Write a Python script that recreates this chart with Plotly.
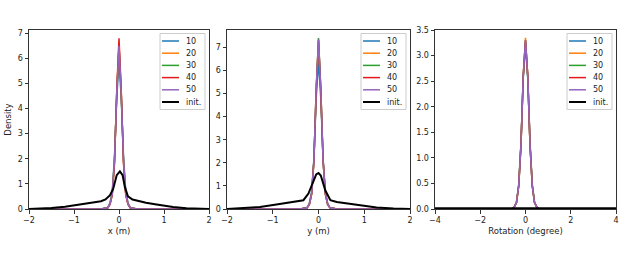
import plotly.graph_objects as go

W, H = 640, 267

series_names = ["10", "20", "30", "40", "50", "init."]
colors = ["#1f77b4", "#ff7f0e", "#2ca02c", "#e31a1c", "#9467bd", "#000000"]

# Panel 1: x (m)
x_grid_1 = [-2.0, -0.4, -0.25, -0.2, -0.15, -0.1, -0.05, 0.0, 0.05, 0.1, 0.15, 0.2, 0.25, 0.4, 2.0]
x_s10 = [0, 0, 0.06, 0.25, 0.7, 2.1, 4.4, 5.9, 4.4, 2.1, 0.7, 0.25, 0.06, 0, 0]
x_s20 = [0, 0, 0.05, 0.2, 0.6, 1.9, 4.7, 6.6, 4.6, 1.9, 0.6, 0.2, 0.05, 0, 0]
x_s30 = [0, 0, 0.05, 0.2, 0.6, 1.9, 4.6, 6.5, 4.6, 1.9, 0.6, 0.2, 0.05, 0, 0]
x_s40 = [0, 0, 0.04, 0.18, 0.55, 1.8, 4.7, 6.8, 4.7, 1.8, 0.55, 0.18, 0.04, 0, 0]
x_s50 = [0, 0, 0.05, 0.2, 0.6, 1.95, 4.6, 6.5, 4.6, 1.95, 0.6, 0.2, 0.05, 0, 0]
x_init_grid = [-2.0, -1.8, -1.5, -1.2, -1.0, -0.8, -0.6, -0.4, -0.3, -0.2, -0.13, -0.05, 0.02,
               0.08, 0.13, 0.2, 0.3, 0.4, 0.6, 0.8, 1.0, 1.2, 1.5, 1.8, 2.0]
x_init = [0.0, 0.01, 0.04, 0.09, 0.14, 0.19, 0.24, 0.31, 0.38, 0.55, 0.8, 1.35, 1.5,
          1.35, 0.88, 0.5, 0.38, 0.33, 0.25, 0.19, 0.13, 0.08, 0.03, 0.01, 0.0]

# Panel 2: y (m)
y_grid_2 = [-2.0, -0.4, -0.25, -0.2, -0.15, -0.1, -0.05, 0.0, 0.05, 0.1, 0.15, 0.2, 0.25, 0.4, 2.0]
y_s10 = [0, 0, 0.06, 0.25, 0.75, 2.2, 4.8, 6.4, 4.8, 2.2, 0.75, 0.25, 0.06, 0, 0]
y_s20 = [0, 0, 0.05, 0.2, 0.65, 2.1, 5.2, 7.3, 5.2, 2.1, 0.65, 0.2, 0.05, 0, 0]
y_s30 = [0, 0, 0.05, 0.2, 0.65, 2.1, 5.2, 7.4, 5.2, 2.1, 0.65, 0.2, 0.05, 0, 0]
y_s40 = [0, 0, 0.05, 0.2, 0.65, 2.1, 5.1, 7.3, 5.1, 2.1, 0.65, 0.2, 0.05, 0, 0]
y_s50 = [0, 0, 0.05, 0.2, 0.65, 2.1, 5.2, 7.35, 5.2, 2.1, 0.65, 0.2, 0.05, 0, 0]
y_init_grid = [-2.0, -1.65, -1.28, -0.92, -0.55, -0.33, -0.22, -0.12, -0.05, 0.0,
               0.05, 0.15, 0.26, 0.4, 0.55, 0.9, 1.27, 1.64, 2.0]
y_init = [0.0, 0.03, 0.09, 0.19, 0.29, 0.38, 0.67, 1.2, 1.5, 1.56,
          1.45, 0.8, 0.38, 0.3, 0.26, 0.16, 0.07, 0.02, 0.0]

# Panel 3: Rotation (degree)
r_grid_3 = [-4.0, -0.6, -0.5, -0.4, -0.3, -0.2, -0.1, 0.0, 0.1, 0.2, 0.3, 0.4, 0.5, 0.6, 4.0]
r_s10 = [0, 0, 0.04, 0.13, 0.48, 1.3, 2.55, 3.2, 2.55, 1.3, 0.48, 0.13, 0.04, 0, 0]
r_s20 = [0, 0, 0.04, 0.12, 0.45, 1.25, 2.6, 3.35, 2.6, 1.25, 0.45, 0.12, 0.04, 0, 0]
r_s30 = [0, 0, 0.04, 0.12, 0.45, 1.25, 2.6, 3.3, 2.6, 1.25, 0.45, 0.12, 0.04, 0, 0]
r_s40 = [0, 0, 0.04, 0.12, 0.45, 1.25, 2.6, 3.3, 2.6, 1.25, 0.45, 0.12, 0.04, 0, 0]
r_s50 = [0, 0, 0.04, 0.12, 0.45, 1.25, 2.6, 3.3, 2.6, 1.25, 0.45, 0.12, 0.04, 0, 0]
r_init_grid = [-4.0, 4.0]
r_init = [0.015, 0.015]

panels = [
    dict(grids=[x_grid_1] * 5 + [x_init_grid], vals=[x_s10, x_s20, x_s30, x_s40, x_s50, x_init],
         xrange=[-2, 2], yrange=[0, 7.13], xtick=[-2, -1, 0, 1, 2], ytick=list(range(0, 8)),
         yfmt="d", xtitle="x (m)", px=(29, 209)),
    dict(grids=[y_grid_2] * 5 + [y_init_grid], vals=[y_s10, y_s20, y_s30, y_s40, y_s50, y_init],
         xrange=[-2, 2], yrange=[0, 7.75], xtick=[-2, -1, 0, 1, 2], ytick=list(range(0, 8)),
         yfmt="d", xtitle="y (m)", px=(227, 410)),
    dict(grids=[r_grid_3] * 5 + [r_init_grid], vals=[r_s10, r_s20, r_s30, r_s40, r_s50, r_init],
         xrange=[-4, 4], yrange=[0, 3.5], xtick=[-4, -2, 0, 2, 4],
         ytick=[0, 0.5, 1.0, 1.5, 2.0, 2.5, 3.0, 3.5],
         yfmt=".1f", xtitle="Rotation (degree)", px=(435, 616)),
]

top_px, bot_px = 30, 209
ydom = [(H - bot_px) / H, (H - top_px) / H]

fig = go.Figure()
shapes = []
annotations = []
font_fam = "DejaVu Sans"
axis_col = "#333333"

for i, p in enumerate(panels):
    n = i + 1
    xa = "x" if n == 1 else f"x{n}"
    ya = "y" if n == 1 else f"y{n}"
    for k in range(6):
        fig.add_trace(go.Scatter(
            x=p["grids"][k], y=p["vals"][k], mode="lines", name=series_names[k],
            line=dict(color=colors[k], width=2.0 if k == 5 else 1.5),
            xaxis=xa, yaxis=ya, showlegend=False))
    xdom = [p["px"][0] / W, p["px"][1] / W]
    common = dict(showline=True, mirror=True, linecolor=axis_col, linewidth=1,
                  ticks="outside", ticklen=3.5, tickwidth=1, tickcolor=axis_col,
                  showgrid=False, zeroline=False, automargin=False,
                  tickfont=dict(family=font_fam, size=8, color="#222"))
    fig.update_layout({
        ("xaxis" if n == 1 else f"xaxis{n}"): dict(
            domain=xdom, range=p["xrange"], tickvals=p["xtick"], anchor=ya,
            title=dict(text=p["xtitle"], font=dict(family=font_fam, size=8.5, color="#222"), standoff=3),
            **common),
        ("yaxis" if n == 1 else f"yaxis{n}"): dict(
            domain=ydom, range=p["yrange"], tickvals=p["ytick"], tickformat=p["yfmt"], anchor=xa,
            title=dict(text="Density" if n == 1 else "", font=dict(family=font_fam, size=8.5, color="#222"), standoff=4),
            **common),
    })
    # manual matplotlib-like legend box
    right = p["px"][1] - 4
    left = right - 45
    top = top_px + 3.5
    bottom = top + 76
    def fx(v):
        return v / W
    def fy(v):
        return (H - v) / H
    shapes.append(dict(type="rect", xref="paper", yref="paper",
                       x0=fx(left), x1=fx(right), y0=fy(bottom), y1=fy(top),
                       line=dict(color="#cccccc", width=1), fillcolor="rgba(255,255,255,0.85)", layer="above"))
    for k, name in enumerate(series_names):
        yy = top + 7.5 + k * 12.2
        shapes.append(dict(type="line", xref="paper", yref="paper",
                           x0=fx(left + 2), x1=fx(left + 19), y0=fy(yy), y1=fy(yy),
                           line=dict(color=colors[k], width=2.0 if k == 5 else 1.5), layer="above"))
        annotations.append(dict(xref="paper", yref="paper", x=fx(left + 24), y=fy(yy),
                                text=name, showarrow=False, xanchor="left", yanchor="middle",
                                font=dict(family=font_fam, size=8, color="#222")))

fig.update_layout(
    width=W, height=H, margin=dict(l=0, r=0, t=0, b=0, autoexpand=False),
    paper_bgcolor="white", plot_bgcolor="white",
    shapes=shapes, annotations=annotations, showlegend=False,
)

fig.write_html("out.html", config={"displayModeBar": False},
               post_script="document.body.style.margin='0px';")
